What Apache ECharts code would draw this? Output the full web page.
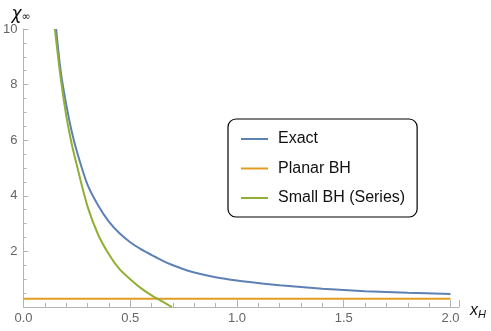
<!DOCTYPE html>
<html>
<head>
<meta charset="utf-8">
<script src="https://cdn.jsdelivr.net/npm/echarts@6/dist/echarts.min.js"></script>
<style>
html,body{margin:0;padding:0;background:#fff;}
#chart{width:491px;height:331px;}
</style>
</head>
<body>
<div id="chart"></div>
<script>
// Data
const seriesNames = ['Exact', 'Planar BH', 'Small BH (Series)'];
const exactX = [0.153, 0.175, 0.2, 0.225, 0.25, 0.3, 0.35, 0.4, 0.45, 0.5, 0.55, 0.6, 0.65, 0.7, 0.75, 0.8, 0.9, 1.0, 1.1, 1.2, 1.4, 1.6, 1.8, 2.0];
const exactY = [10, 8.45, 7.3, 6.35, 5.6, 4.4, 3.65, 3.07, 2.65, 2.33, 2.08, 1.87, 1.67, 1.5, 1.36, 1.24, 1.07, 0.95, 0.86, 0.78, 0.66, 0.57, 0.51, 0.47];
const planarX = [0, 2.0];
const planarY = [0.30, 0.30];
const smallX = [0.147, 0.175, 0.2, 0.225, 0.25, 0.3, 0.35, 0.4, 0.45, 0.5, 0.55, 0.6, 0.65, 0.695];
const smallY = [10, 8.2, 6.9, 5.9, 5.1, 3.62, 2.6, 1.9, 1.36, 1.0, 0.68, 0.42, 0.2, 0.0];
const xTickLabels = ['0.0', '0.5', '1.0', '1.5', '2.0'];
const yTickLabels = ['2', '4', '6', '8', '10'];

const zip = (xs, ys) => xs.map((x, i) => [x, ys[i]]);
const colors = ['#5E81B5', '#E19C24', '#8FB032'];
const axisGray = '#b4b4b4';
const labelGray = '#666666';

const chart = echarts.init(document.getElementById('chart'), null, {renderer: 'canvas'});
chart.setOption({
  animation: false,
  color: colors,
  grid: {left: 20, right: 32, top: 29, bottom: 24, containLabel: false},
  xAxis: {
    type: 'value', min: 0, max: 2.04, interval: 0.5,
    name: '{x|x}{h|H}', nameLocation: 'end', nameGap: 11,
    nameTextStyle: {
      rich: {
        x: {fontSize: 16, fontStyle: 'italic', color: '#111', fontFamily: 'Liberation Sans', padding: [7, 0, 0, 0]},
        h: {fontSize: 11, fontStyle: 'italic', color: '#111', fontFamily: 'Liberation Sans', padding: [15, 0, 0, 0]}
      }
    },
    axisLine: {show: true, lineStyle: {color: axisGray, width: 1}},
    axisTick: {show: true, inside: true, length: 7, lineStyle: {color: axisGray}},
    minorTick: {show: true, splitNumber: 5, length: 4, lineStyle: {color: axisGray}},
    splitLine: {show: false},
    minorSplitLine: {show: false},
    axisLabel: {
      color: labelGray, fontSize: 13, fontFamily: 'Liberation Sans', margin: 5,
      showMaxLabel: false,
      formatter: function (v) {
        const i = Math.round(v / 0.5);
        return (Math.abs(v - i * 0.5) < 1e-6 && i < xTickLabels.length) ? xTickLabels[i] : '';
      }
    }
  },
  yAxis: {
    type: 'value', min: 0, max: 10, interval: 2,
    name: '{c|χ}{s|∞}', nameLocation: 'end', nameGap: 4,
    nameTextStyle: {
      align: 'left', padding: [0, 0, 0, -12],
      rich: {
        c: {fontSize: 17, fontStyle: 'italic', color: '#111', fontFamily: 'DejaVu Sans'},
        s: {fontSize: 11, color: '#111', fontFamily: 'DejaVu Sans', padding: [6, 0, 0, 0]}
      }
    },
    axisLine: {show: true, lineStyle: {color: axisGray, width: 1}},
    axisTick: {show: true, inside: true, length: 5, lineStyle: {color: axisGray}},
    minorTick: {show: true, splitNumber: 4, length: 3, lineStyle: {color: axisGray}},
    splitLine: {show: false},
    axisLabel: {
      color: labelGray, fontSize: 13, fontFamily: 'Liberation Sans', margin: 6,
      showMinLabel: false,
      formatter: function (v) {
        const i = Math.round(v / 2) - 1;
        return (i >= 0 && i < yTickLabels.length) ? yTickLabels[i] : '';
      }
    }
  },
  legend: {
    show: true, orient: 'vertical', left: 228, top: 119,
    data: seriesNames,
    icon: 'rect', itemWidth: 27, itemHeight: 2, itemGap: 11.5,
    padding: [11, 12, 10, 13],
    borderColor: '#000', borderWidth: 1.2, borderRadius: 8,
    backgroundColor: '#fff',
    textStyle: {fontSize: 16, lineHeight: 18, color: '#111', fontFamily: 'Liberation Sans', padding: [0, 0, 0, 5]}
  },
  series: [
    {name: seriesNames[0], type: 'line', data: zip(exactX, exactY), smooth: 0.3, showSymbol: false, symbol: 'none', lineStyle: {width: 2, color: colors[0]}, clip: true},
    {name: seriesNames[1], type: 'line', data: zip(planarX, planarY), showSymbol: false, symbol: 'none', lineStyle: {width: 2, color: colors[1]}, clip: true},
    {name: seriesNames[2], type: 'line', data: zip(smallX, smallY), smooth: 0.3, showSymbol: false, symbol: 'none', lineStyle: {width: 2, color: colors[2]}, clip: true}
  ]
});
</script>
</body>
</html>
